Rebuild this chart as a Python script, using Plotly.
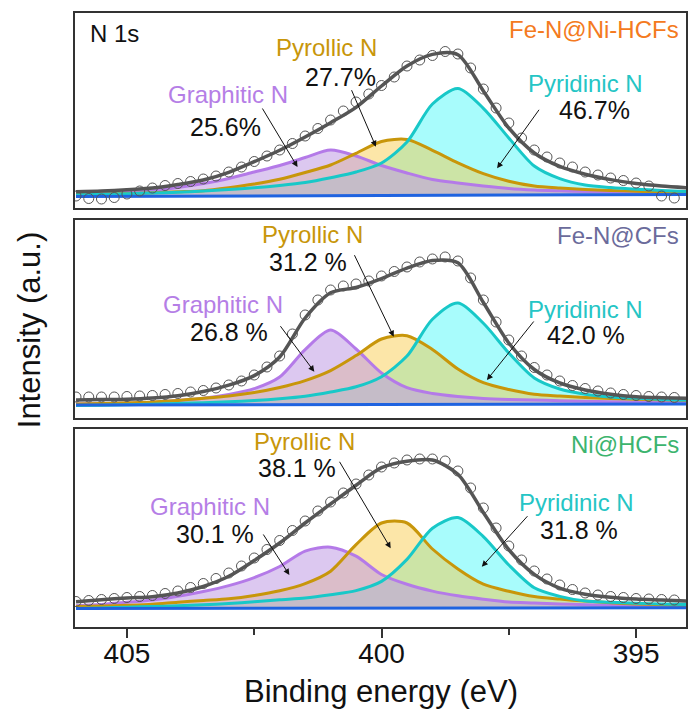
import plotly.graph_objects as go

# ---------------- data ----------------
x_fit = [406.0, 405.5, 405.0, 404.5, 404.0, 403.5, 403.0, 402.5, 402.0, 401.5, 401.0,
         400.5, 400.0, 399.5, 399.0, 398.5, 398.0, 397.5, 397.0, 396.5, 396.0, 395.5,
         395.0, 394.5, 394.0]
x_data = [406.0, 405.75, 405.5, 405.25, 405.0, 404.75, 404.5, 404.25, 404.0, 403.75,
          403.5, 403.25, 403.0, 402.75, 402.5, 402.25, 402.0, 401.75, 401.5, 401.25,
          401.0, 400.75, 400.5, 400.25, 400.0, 399.75, 399.5, 399.25, 399.0, 398.75,
          398.5, 398.25, 398.0, 397.75, 397.5, 397.25, 397.0, 396.75, 396.5, 396.25,
          396.0, 395.75, 395.5, 395.25, 395.0, 394.75, 394.5, 394.25]
x_bg = [406.0, 394.0]
x_ticks = [405, 400, 395]
x_minor_ticks = [402.5, 397.5]

components = ["Graphitic N", "Pyrollic N", "Pyridinic N"]
samples = ["Fe-N@Ni-HCFs", "Fe-N@CFs", "Ni@HCFs"]

# Fe-N@Ni-HCFs
top_bg = [11.5, 13.5]
top_graphitic = [14, 14.8, 15.8, 17.5, 20.5, 24.5, 29.5, 36, 42.5, 50.5, 58, 52, 42.5,
                 35, 28.5, 25, 22, 19.5, 18, 17.2, 16.6, 16.2, 15.8, 15.4, 15]
top_pyrollic = [13.5, 14, 14.5, 15.3, 16.2, 17.3, 20.3, 24, 28.8, 35.5, 43, 54.7, 66.5,
                68.5, 57.7, 45.2, 34.4, 26.8, 22, 20, 18.6, 17.6, 16.7, 16, 15.5]
top_pyridinic = [13.2, 13.7, 14.3, 15, 15.8, 17, 18.5, 20.2, 22.5, 25.5, 30.3, 36, 45,
                 66, 104, 119.5, 99.7, 70, 42, 29.4, 23, 20.5, 18.8, 17.6, 16.5]
top_envelope = [16.3, 17, 18.2, 20, 23.5, 28, 35.7, 46.3, 57.7, 71, 85.3, 100.7, 122,
                142, 153.6, 153.3, 117, 80, 55, 41.6, 33.8, 28.4, 24.5, 22, 20.3]
top_counts = [12, 9.5, 9, 10.5, 14, 17, 20, 22.5, 24.5, 26.5, 29, 32, 36, 41, 46.5, 52,
              58, 64.5, 72, 79.5, 88, 97, 106, 114, 122.5, 131, 142, 148, 152.5, 156.5,
              154, 140, 119, 100, 85, 70, 58, 51, 45, 41, 36, 33, 30, 27.5, 25, 22, 12, 10]
top_pct = [25.6, 27.7, 46.7]

# Fe-N@CFs
mid_bg = [13, 14]
mid_graphitic = [14, 14.3, 14.8, 15.8, 17.5, 19.7, 23.5, 29.3, 41, 68.4, 88, 69, 45,
                 30.3, 24.5, 21.5, 19.5, 18.5, 18, 17.3, 16.8, 16.3, 16, 15.7, 15.5]
mid_pyrollic = [14, 14.5, 15.2, 16, 17.5, 19.7, 22, 25.5, 30.5, 37.4, 47.4, 62.4, 79,
                82.3, 68.5, 49, 35.3, 28.5, 23.8, 22, 20.5, 19.5, 18.8, 18.2, 17.7]
mid_pyridinic = [12.5, 12.8, 13.3, 13.8, 14.5, 15.3, 16.2, 17.5, 19.3, 21.8, 26, 31.2,
                 41.3, 61.9, 98.7, 115, 94.7, 65, 40, 29, 23.8, 20.9, 19.7, 18.6, 18]
mid_envelope = [18, 18.4, 18.8, 20, 22.3, 26.5, 32.8, 42.4, 61, 100, 125.2, 130.5,
                139.4, 149.9, 157.5, 155.2, 115.5, 75, 48.5, 35, 28, 23.8, 21.3, 20.3, 19.7]
mid_counts = [21, 21, 21, 21, 21.5, 22, 22.5, 23.5, 24.5, 26, 27.5, 30, 33, 37, 43, 51,
              62, 84, 103, 118, 128, 132, 134, 137, 142, 146.5, 151, 156, 159, 161, 157,
              140, 118, 96, 78, 62, 50.5, 43, 37, 32.5, 29.5, 27, 25, 23.5, 22.5, 21.5,
              21, 20.5]
mid_pct = [26.8, 31.2, 42.0]

# Ni@HCFs
bot_bg = [18.5, 19.3]
bot_graphitic = [21.3, 22.5, 24.7, 27, 30.7, 35.5, 41.4, 49.4, 60.5, 75.9, 79.8, 70.8,
                 52.5, 42.7, 35.9, 31.2, 27.8, 25, 24, 23, 22.3, 21.7, 21, 20.7, 20.3]
bot_pyrollic = [20.5, 21, 21.7, 22.7, 24.8, 26.5, 28.2, 31.5, 36.2, 43.4, 55.8, 82.3,
                104, 104, 78, 58, 42.8, 35.7, 30.4, 27.9, 25.9, 24.2, 23.1, 22.2, 21.5]
bot_pyridinic = [18.5, 19, 19.8, 20.5, 21.2, 22.2, 23.5, 25.3, 27.3, 29, 32.3, 36.4,
                 45.6, 67.6, 98.8, 109.5, 90.4, 62, 39.2, 30.6, 26, 24.8, 23.7, 23.1, 22.6]
bot_envelope = [25.3, 27.2, 29, 30.3, 34, 40.5, 50.7, 66.5, 84, 104, 123, 141.7, 159.3,
                165.8, 167, 152.7, 114.5, 77.3, 52.6, 38.9, 32.8, 29.7, 27.9, 27, 26]
bot_counts = [25.5, 26.5, 27.5, 28.5, 29.5, 30.5, 31.5, 33.5, 36, 39.5, 43.5, 48.5, 54,
              61, 69, 77.5, 86.5, 96.5, 106, 116, 125, 134, 143, 152, 160, 164, 167, 168,
              168, 166, 156, 139, 119, 99, 81, 67, 56, 48, 42, 37.5, 34, 32, 30.5, 29.5,
              28.5, 28, 27.5, 27]
bot_pct = [30.1, 38.1, 31.8]

# ---------------- styling ----------------
FONT = "Liberation Sans, Arial, sans-serif"
C_PUR, C_GOLD, C_CYAN = "#b47ae8", "#c8960a", "#18c8c8"
T_PUR, T_GOLD, T_CYAN = "#b57ee6", "#c8960a", "#25c5c5"
F_PUR = "rgba(191,155,228,0.55)"
F_GOLD = "rgba(248,200,62,0.45)"
F_CYAN = "rgba(0,245,245,0.34)"
C_BG = "#1f63e0"
C_ENV = "#555555"
SAMPLE_COLORS = ["#f47a20", "#6b6b9b", "#3cb46e"]

panels = [
    dict(bg=top_bg, comp=[top_graphitic, top_pyrollic, top_pyridinic], env=top_envelope,
         counts=top_counts, pct=top_pct, fmt="{:.1f}%", xa="x", ya="y", H=195),
    dict(bg=mid_bg, comp=[mid_graphitic, mid_pyrollic, mid_pyridinic], env=mid_envelope,
         counts=mid_counts, pct=mid_pct, fmt="{:.1f} %", xa="x2", ya="y2", H=198),
    dict(bg=bot_bg, comp=[bot_graphitic, bot_pyrollic, bot_pyridinic], env=bot_envelope,
         counts=bot_counts, pct=bot_pct, fmt="{:.1f} %", xa="x3", ya="y3", H=198),
]

# label layout (x in eV, y in panel units): name pos, pct pos, arrow head, arrow tail offset (px)
label_pos = [
    [((403.02, 114), (403.06, 81), (401.65, 41), (-36, -60)),
     ((401.08, 160.5), (400.81, 131), (400.11, 61.3), (-25, -58)),
     ((395.99, 124.5), (395.81, 98.5), (397.73, 39.7), (43, -60))],
    [((403.12, 113), (403.0, 86.3), (401.32, 46.3), (-35, -47)),
     ((401.35, 183), (401.44, 156.3), (399.76, 81.3), (-40, -83)),
     ((395.99, 108), (395.98, 83), (397.93, 38), (48, -60))],
    [((403.36, 120), (403.28, 93), (401.81, 52), (-27, -42)),
     ((401.52, 185.5), (401.66, 158.5), (399.82, 78.7), (-52, -88)),
     ((396.18, 124), (396.12, 97), (398.03, 60.3), (47, -52))],
]

fill_order = [2, 1, 0]  # cyan, gold, purple
line_cols = [C_PUR, C_GOLD, C_CYAN]
fill_cols = [F_PUR, F_GOLD, F_CYAN]
text_cols = [T_PUR, T_GOLD, T_CYAN]

fig = go.Figure()
annotations = []

for p_i, p in enumerate(panels):
    xa, ya = p["xa"], p["ya"]
    for ci in fill_order:
        fig.add_trace(go.Scatter(x=x_bg, y=p["bg"], mode="lines", line=dict(width=0),
                                 xaxis=xa, yaxis=ya, hoverinfo="skip", showlegend=False))
        fig.add_trace(go.Scatter(x=x_fit, y=p["comp"][ci], mode="lines",
                                 line=dict(width=0, shape="spline", smoothing=0.8),
                                 fill="tonexty", fillcolor=fill_cols[ci],
                                 xaxis=xa, yaxis=ya, hoverinfo="skip", showlegend=False))
    for ci in [0, 1, 2]:
        fig.add_trace(go.Scatter(x=x_fit, y=p["comp"][ci], mode="lines",
                                 line=dict(width=3, color=line_cols[ci], shape="spline", smoothing=0.8),
                                 xaxis=xa, yaxis=ya, hoverinfo="skip", showlegend=False))
    fig.add_trace(go.Scatter(x=x_bg, y=p["bg"], mode="lines", line=dict(width=3, color=C_BG),
                             xaxis=xa, yaxis=ya, hoverinfo="skip", showlegend=False))
    fig.add_trace(go.Scatter(x=x_fit, y=p["env"], mode="lines",
                             line=dict(width=3.5, color=C_ENV, shape="spline", smoothing=0.8),
                             xaxis=xa, yaxis=ya, hoverinfo="skip", showlegend=False))
    fig.add_trace(go.Scatter(x=x_data, y=p["counts"], mode="markers",
                             marker=dict(symbol="circle-open", size=10, color=C_ENV,
                                         line=dict(width=1, color=C_ENV)),
                             xaxis=xa, yaxis=ya, hoverinfo="skip", showlegend=False))

    for ci in range(3):
        (nx, ny), (px_, py_), (hx, hy), (ax, ay) = label_pos[p_i][ci]
        annotations.append(dict(x=nx, y=ny, xref=xa, yref=ya, text=components[ci],
                                xanchor="center", yanchor="middle",
                                showarrow=False, font=dict(family=FONT, size=24, color=text_cols[ci])))
        annotations.append(dict(x=px_, y=py_, xref=xa, yref=ya, text=p["fmt"].format(p["pct"][ci]),
                                xanchor="center", yanchor="middle",
                                showarrow=False, font=dict(family=FONT, size=25, color="#111111")))
        annotations.append(dict(x=hx, y=hy, xref=xa, yref=ya, text="", showarrow=True,
                                ax=ax, ay=ay, arrowhead=2, arrowsize=1.2, arrowwidth=1,
                                arrowcolor="#111111", standoff=0))
    annotations.append(dict(x=394.12, y=p["H"] - 16, xref=xa, yref=ya, text=samples[p_i],
                            xanchor="right", yanchor="middle", showarrow=False,
                            font=dict(family=FONT, size=24, color=SAMPLE_COLORS[p_i])))

annotations.append(dict(x=405.76, y=174.7, xref="x", yref="y", text="N 1s", xanchor="left",
                        yanchor="middle", showarrow=False,
                        font=dict(family=FONT, size=24, color="#111111")))
annotations.append(dict(x=0.5, y=-0.105, xref="paper", yref="paper", text="Binding energy (eV)",
                        xanchor="center", yanchor="middle", showarrow=False,
                        font=dict(family=FONT, size=31, color="#111111")))
annotations.append(dict(x=-0.075, y=0.4837, xref="paper", yref="paper", text="Intensity (a.u.)",
                        xanchor="center", yanchor="middle", textangle=-90, showarrow=False,
                        font=dict(family=FONT, size=31, color="#111111")))

XR = [406.02, 394.02]
frame = dict(showline=True, mirror=True, linecolor="#333333", linewidth=1.5,
             showgrid=False, zeroline=False)
fig.update_layout(
    width=689, height=710, autosize=False,
    margin=dict(l=75, r=1, t=13, b=83),
    paper_bgcolor="white", plot_bgcolor="white",
    showlegend=False,
    xaxis=dict(domain=[0, 1], anchor="y", range=XR, showticklabels=False, ticks="", **frame),
    yaxis=dict(domain=[0.6824, 1], anchor="x", range=[0, 195], showticklabels=False, ticks="", **frame),
    xaxis2=dict(domain=[0, 1], anchor="y2", range=XR, showticklabels=False, ticks="", **frame),
    yaxis2=dict(domain=[0.3404, 0.6629], anchor="x2", range=[0, 198], showticklabels=False, ticks="", **frame),
    xaxis3=dict(domain=[0, 1], anchor="y3", range=XR, tickmode="array", tickvals=x_ticks,
                ticktext=[str(v) for v in x_ticks],
                ticks="outside", ticklen=9, tickwidth=1.5, tickcolor="#333333",
                ticklabelstandoff=-8,
                tickfont=dict(family=FONT, size=28, color="#111111"),
                minor=dict(tickmode="array", tickvals=x_minor_ticks, ticks="outside",
                           ticklen=6, tickwidth=1.5, tickcolor="#333333"),
                **frame),
    yaxis3=dict(domain=[0, 0.3225], anchor="x3", range=[0, 198], showticklabels=False, ticks="", **frame),
    annotations=annotations,
)

fig.write_html("out.html")
